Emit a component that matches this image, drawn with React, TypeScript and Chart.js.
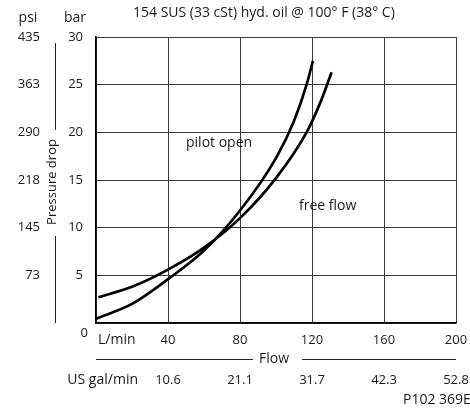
import React, { useEffect, useRef } from 'react';
import { Chart, registerables } from 'chart.js';

Chart.register(...registerables);

// Flow (L/min) and pressure drop (bar)
const flowPilotOpen = [0, 20, 40, 60, 80, 100, 110, 117, 120.5];
const barPilotOpen = [0.45, 2.0, 4.6, 7.6, 11.8, 17.3, 21.2, 25, 27.5];
const flowFreeFlow = [1.3, 20, 40, 60, 80, 100, 117, 125, 130.9];
const barFreeFlow = [2.7, 3.8, 5.6, 7.9, 11.0, 15.2, 20, 23.3, 26.3];

const flowTickLabels = ['L/min', '40', '80', '120', '160', '200'];
const galTickLabels = ['', '10.6', '21.1', '31.7', '42.3', '52.8'];
const barTickLabels = ['0', '5', '10', '15', '20', '25', '30'];
const psiTickLabels = ['', '73', '145', '218', '290', '363', '435'];

const FONT = '"Open Sans", sans-serif';
const FS = 13;
const WFS = 14;
const TEXT = '#1a1a1a';

const toPoints = (xs: number[], ys: number[]) => xs.map((x, i) => ({ x, y: ys[i] }));

const textPlugin = {
  id: 'extraText',
  afterDraw(chart: any) {
    const ctx = chart.ctx as CanvasRenderingContext2D;
    const area = chart.chartArea;
    ctx.save();
    ctx.fillStyle = TEXT;
    ctx.strokeStyle = '#222';
    ctx.lineWidth = 1;
    ctx.font = `${WFS}px ${FONT}`;
    ctx.textBaseline = 'middle';

    // header
    ctx.textAlign = 'left';
    ctx.fillText('154 SUS (33 cSt) hyd. oil @ 100° F (38° C)', 133, 13);
    ctx.textAlign = 'center';
    ctx.fillText('psi', 28, 18);
    ctx.fillText('bar', 75, 18);

    // y title with lines
    ctx.save();
    ctx.font = `${FS}px ${FONT}`;
    ctx.translate(52, 182);
    ctx.rotate(-Math.PI / 2);
    ctx.textAlign = 'center';
    ctx.fillText('Pressure drop', 0, 0);
    ctx.restore();
    ctx.beginPath();
    ctx.moveTo(55.5, area.top + 6);
    ctx.lineTo(55.5, 130);
    ctx.moveTo(55.5, 236);
    ctx.lineTo(55.5, area.bottom);
    ctx.stroke();

    // zero and units
    ctx.font = `${FS}px ${FONT}`;
    ctx.textAlign = 'right';
    ctx.fillText('0', 88, 333);
    ctx.font = `${WFS}px ${FONT}`;
    ctx.textAlign = 'left';
    ctx.fillText('L/min', 98, 340);
    ctx.textAlign = 'right';
    ctx.fillText('US gal/min', 138, 380);

    // Flow title with lines
    ctx.textAlign = 'center';
    ctx.fillText('Flow', 274, 359);
    ctx.beginPath();
    ctx.moveTo(area.left, 359.5);
    ctx.lineTo(253, 359.5);
    ctx.moveTo(302, 359.5);
    ctx.lineTo(area.right, 359.5);
    ctx.stroke();

    // code
    ctx.textAlign = 'left';
    ctx.fillText('P102 369E', 403, 400);

    // curve labels
    ctx.fillText('pilot open', 186, 143);
    ctx.fillText('free flow', 299, 206);
    ctx.restore();
  },
};

export default function App() {
  const canvasRef = useRef<HTMLCanvasElement | null>(null);

  useEffect(() => {
    const canvas = canvasRef.current;
    if (!canvas) return;
    const tickFont = { family: FONT, size: FS };
    const fitX = (h: number) => (s: any) => {
      s.height = h;
      s.paddingLeft = 0;
      s.paddingRight = 0;
    };
    const fitY = (w: number) => (s: any) => {
      s.width = w;
      s.paddingTop = 0;
      s.paddingBottom = 0;
    };
    const chart = new Chart(canvas, {
      type: 'scatter',
      data: {
        datasets: [
          {
            label: 'pilot open',
            data: toPoints(flowPilotOpen, barPilotOpen),
            showLine: true,
            borderColor: '#000',
            borderWidth: 2.7,
            pointRadius: 0,
            cubicInterpolationMode: 'monotone',
            xAxisID: 'x',
            yAxisID: 'y',
          },
          {
            label: 'free flow',
            data: toPoints(flowFreeFlow, barFreeFlow),
            showLine: true,
            borderColor: '#000',
            borderWidth: 2.7,
            pointRadius: 0,
            cubicInterpolationMode: 'monotone',
            xAxisID: 'x',
            yAxisID: 'y',
          },
        ],
      },
      options: {
        responsive: false,
        animation: false,
        devicePixelRatio: 1,
        layout: { padding: { top: 37, right: 14, bottom: 15, left: 0 } },
        plugins: { legend: { display: false }, tooltip: { enabled: false } },
        scales: {
          x: {
            type: 'linear',
            position: 'bottom',
            min: 0,
            max: 200,
            ticks: {
              stepSize: 40,
              padding: 9,
              color: TEXT,
              font: tickFont,
              maxRotation: 0,
              callback: (_v: any, i: number) => (i === 0 ? '' : flowTickLabels[i]),
            },
            grid: { color: '#3a3a3a', lineWidth: 1, drawTicks: false },
            border: { color: '#000', width: 1.5 },
            afterFit: fitX(30),
          },
          gal: {
            type: 'linear',
            position: 'bottom',
            min: 0,
            max: 200,
            ticks: {
              stepSize: 40,
              padding: 19,
              color: TEXT,
              font: tickFont,
              maxRotation: 0,
              callback: (_v: any, i: number) => galTickLabels[i],
            },
            grid: { display: false, drawTicks: false },
            border: { display: false },
            afterFit: fitX(40),
          },
          y: {
            type: 'linear',
            position: 'left',
            min: 0,
            max: 30,
            ticks: {
              stepSize: 5,
              padding: 13,
              color: TEXT,
              font: tickFont,
              callback: (_v: any, i: number) => (i === 0 ? '' : barTickLabels[i]),
            },
            grid: { color: '#3a3a3a', lineWidth: 1, drawTicks: false },
            border: { color: '#000', width: 1.5 },
            afterFit: fitY(40),
          },
          psi: {
            type: 'linear',
            position: 'left',
            min: 0,
            max: 30,
            ticks: {
              stepSize: 5,
              padding: 16,
              color: TEXT,
              font: tickFont,
              callback: (_v: any, i: number) => psiTickLabels[i],
            },
            grid: { display: false, drawTicks: false },
            border: { display: false },
            afterFit: fitY(56),
          },
        },
      },
      plugins: [textPlugin],
    } as any);
    return () => chart.destroy();
  }, []);

  return (
    <div style={{ position: 'fixed', left: 0, top: 0, width: 470, height: 408, background: '#fff' }}>
      <canvas ref={canvasRef} width={470} height={408} style={{ display: 'block' }} />
    </div>
  );
}
